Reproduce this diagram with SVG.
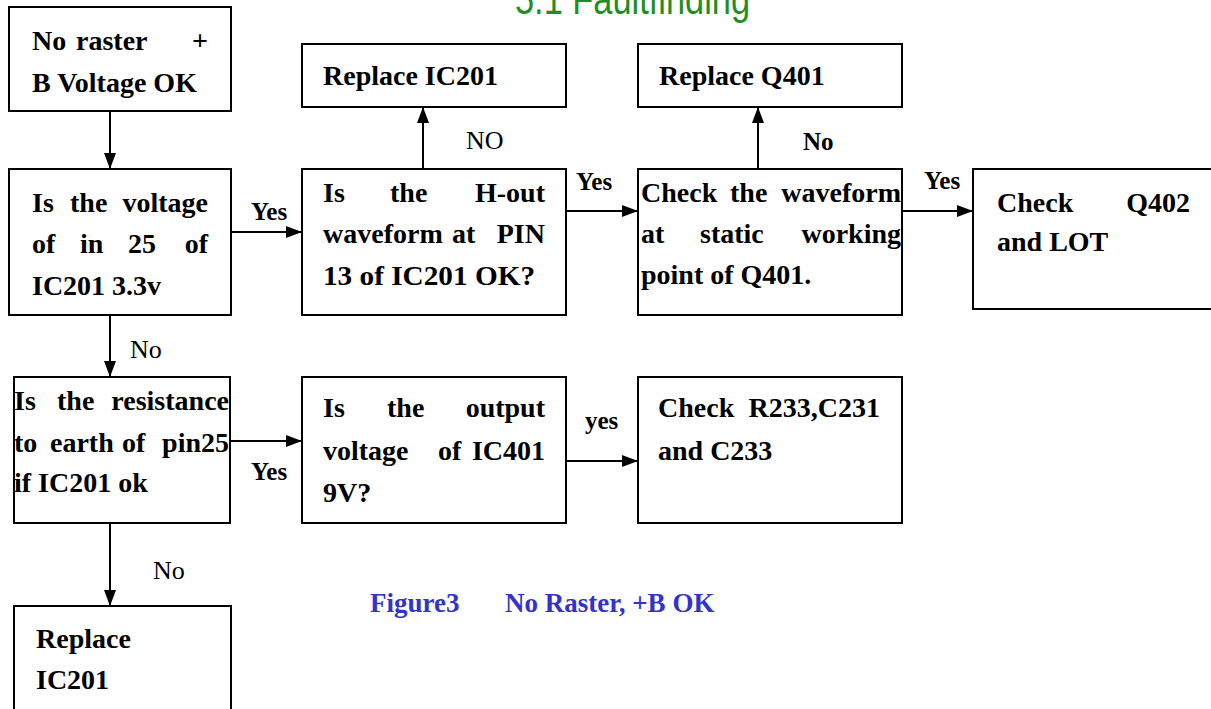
<svg xmlns="http://www.w3.org/2000/svg" width="1211" height="709" viewBox="0 0 1211 709">
<style>
.box{fill:#fff;stroke:#000;stroke-width:2}
.t{font-family:"Liberation Serif","Times New Roman",serif;font-weight:bold;font-size:28px;fill:#000}
.lb{font-family:"Liberation Serif","Times New Roman",serif;font-weight:bold;font-size:25px;fill:#000}
.ln{font-family:"Liberation Serif","Times New Roman",serif;font-size:26px;fill:#000}
.edge{stroke:#000;stroke-width:2;fill:none;marker-end:url(#arr)}
.cap{font-family:"Liberation Serif","Times New Roman",serif;font-weight:bold;font-size:27px;fill:#3333cc}
.title{font-family:"Liberation Sans",Arial,sans-serif;font-size:42px;fill:#1f8f1f}
</style>
<defs>
<marker id="arr" markerUnits="userSpaceOnUse" markerWidth="16" markerHeight="12" refX="16" refY="6" orient="auto">
<path d="M0,0 L16,6 L0,12 z" fill="#000"/>
</marker>
</defs>
<rect width="1211" height="709" fill="#fff"/>
<text class="title" x="515" y="14" textLength="235" lengthAdjust="spacingAndGlyphs">5.1 Faultfinding</text>

<g id="connectors">
<line class="edge" x1="110" y1="111" x2="110" y2="169"/>
<line class="edge" x1="231" y1="232" x2="302" y2="232"/>
<line class="edge" x1="423" y1="169" x2="423" y2="107"/>
<line class="edge" x1="566" y1="211" x2="638" y2="211"/>
<line class="edge" x1="758" y1="169" x2="758" y2="107"/>
<line class="edge" x1="902" y1="211" x2="973" y2="211"/>
<line class="edge" x1="110" y1="315" x2="110" y2="377"/>
<line class="edge" x1="230" y1="441" x2="302" y2="441"/>
<line class="edge" x1="566" y1="461" x2="638" y2="461"/>
<line class="edge" x1="110" y1="523" x2="110" y2="606"/>
<text class="lb" x="251" y="220">Yes</text>
<text class="ln" x="466" y="149">NO</text>
<text class="lb" x="576" y="190">Yes</text>
<text class="lb" x="803" y="150">No</text>
<text class="lb" x="924" y="189">Yes</text>
<text class="ln" x="130" y="358">No</text>
<text class="lb" x="251" y="480">Yes</text>
<text class="lb" x="585" y="429">yes</text>
<text class="ln" x="153" y="579">No</text>
</g>

<g id="start">
<rect class="box" x="9" y="7" width="222" height="104"/>
<text class="t" y="50"><tspan x="32">No</tspan><tspan x="76">raster</tspan><tspan x="208" text-anchor="end">+</tspan></text>
<text class="t" x="32" y="92">B Voltage OK</text>
</g>

<g id="q-voltage">
<rect class="box" x="9" y="169" width="222" height="146"/>
<text class="t" y="212"><tspan x="32">Is</tspan><tspan x="70">the</tspan><tspan x="208" text-anchor="end">voltage</tspan></text>
<text class="t" y="253"><tspan x="32">of</tspan><tspan x="80">in</tspan><tspan x="128">25</tspan><tspan x="208" text-anchor="end">of</tspan></text>
<text class="t" x="32" y="295">IC201 3.3v</text>
</g>

<g id="q-hout">
<rect class="box" x="302" y="169" width="264" height="146"/>
<text class="t" y="202"><tspan x="323">Is</tspan><tspan x="390">the</tspan><tspan x="545" text-anchor="end">H-out</tspan></text>
<text class="t" y="243"><tspan x="323">waveform</tspan><tspan x="452">at</tspan><tspan x="545" text-anchor="end">PIN</tspan></text>
<text class="t" x="323" y="285" textLength="212" lengthAdjust="spacingAndGlyphs">13 of IC201 OK?</text>
</g>

<g id="replace-ic201-top">
<rect class="box" x="302" y="44" width="264" height="63"/>
<text class="t" x="323" y="85">Replace IC201</text>
</g>

<g id="q-waveform">
<rect class="box" x="638" y="169" width="264" height="146"/>
<text class="t" y="202"><tspan x="641">Check</tspan><tspan x="730">the</tspan><tspan x="901" text-anchor="end">waveform</tspan></text>
<text class="t" y="243"><tspan x="641">at</tspan><tspan x="700">static</tspan><tspan x="901" text-anchor="end">working</tspan></text>
<text class="t" x="641" y="284">point of Q401.</text>
</g>

<g id="replace-q401">
<rect class="box" x="638" y="44" width="264" height="63"/>
<text class="t" x="659" y="85">Replace Q401</text>
</g>

<g id="check-q402">
<rect class="box" x="973" y="169" width="260" height="140"/>
<text class="t" y="212"><tspan x="997">Check</tspan><tspan x="1190" text-anchor="end">Q402</tspan></text>
<text class="t" x="997" y="251">and LOT</text>
</g>

<g id="q-resistance">
<rect class="box" x="14" y="377" width="216" height="146"/>
<text class="t" y="410"><tspan x="14">Is</tspan><tspan x="57">the</tspan><tspan x="229" text-anchor="end">resistance</tspan></text>
<text class="t" y="452"><tspan x="14">to</tspan><tspan x="50">earth</tspan><tspan x="122">of</tspan><tspan x="229" text-anchor="end">pin25</tspan></text>
<text class="t" x="14" y="492">if IC201 ok</text>
</g>

<g id="q-output">
<rect class="box" x="302" y="377" width="264" height="146"/>
<text class="t" y="417"><tspan x="323">Is</tspan><tspan x="387">the</tspan><tspan x="545" text-anchor="end">output</tspan></text>
<text class="t" y="460"><tspan x="323">voltage</tspan><tspan x="438">of</tspan><tspan x="545" text-anchor="end">IC401</tspan></text>
<text class="t" x="323" y="502">9V?</text>
</g>

<g id="check-r233">
<rect class="box" x="638" y="377" width="264" height="146"/>
<text class="t" y="417"><tspan x="658">Check</tspan><tspan x="880" text-anchor="end">R233,C231</tspan></text>
<text class="t" x="658" y="460">and C233</text>
</g>

<g id="replace-ic201-bottom">
<rect class="box" x="14" y="606" width="217" height="120"/>
<text class="t" x="36" y="648">Replace</text>
<text class="t" x="36" y="689">IC201</text>
</g>

<text class="cap" y="612"><tspan x="370">Figure3</tspan><tspan x="505">No Raster, +B OK</tspan></text>
</svg>
